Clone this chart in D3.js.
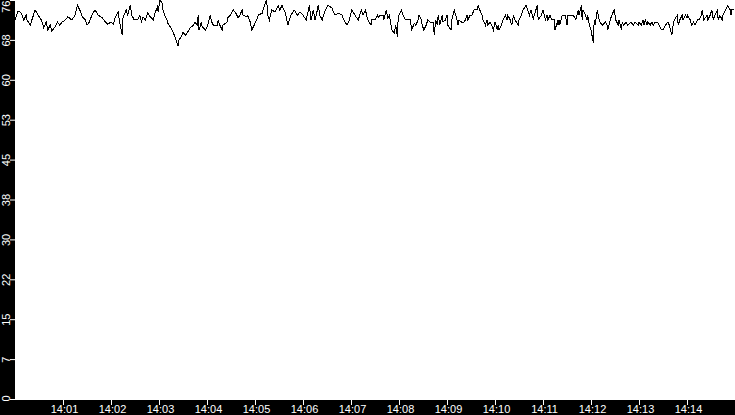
<!DOCTYPE html>
<html>
<head>
<meta charset="utf-8">
<script src="https://cdn.jsdelivr.net/npm/d3@7"></script>
<style>
  html, body { margin: 0; padding: 0; background: #000; }
  svg { display: block; }
  .axis text { fill: #fff; font-family: 'Liberation Sans', Arial, sans-serif; font-size: 11px; }
  .axis line { stroke: #fff; }
</style>
</head>
<body>
<div class="chart"></div>
<script>
// seconds after 14:00:00 for every sample
const secs = [
  0, 4, 8, 11, 14, 15, 19, 23, 25, 29, 33, 36, 39, 41, 44, 46, 50, 53, 56, 59, 63, 66, 71, 75, 78, 81, 84, 88, 90, 93, 96, 100, 104, 109,
  113, 116, 120, 123, 125, 129, 131, 134, 135, 139, 141, 144, 146, 149, 153, 156, 158, 160, 163, 166, 169, 173, 175, 178, 179, 181, 184, 185, 188, 190, 191, 194, 196, 198, 200, 204, 205, 208, 210, 213, 215, 219, 223,
  225, 228, 229, 230, 233, 234, 238, 241, 244, 246, 248, 253, 254, 256, 259, 260, 265, 266, 269, 273, 276, 279, 281, 284, 285, 290, 291, 294, 296, 299, 303, 304, 309, 310, 314, 315, 316, 318, 321, 325, 329, 331, 334, 336,
  338, 341, 343, 345, 349, 353, 356, 360, 364, 368, 370, 373, 375, 378, 379, 381, 384, 388, 391, 396, 400, 404, 409, 411, 415, 418, 421, 425, 429, 433, 435, 438, 441, 445, 446, 449,
  450, 453, 454, 456, 460, 461, 464, 466, 468, 469, 471, 474, 476, 478, 479, 480, 483, 485, 488, 494, 495, 496, 499, 501, 504, 505, 508, 509, 511, 514, 516, 519, 523, 524, 526, 528, 529, 531, 534, 535, 538, 540, 541, 545, 546, 549, 551, 554, 555, 558, 561,
  563, 565, 566, 569, 571, 574, 578, 579, 581, 584, 585, 588, 590, 591, 594, 596, 598, 600, 603, 604, 605, 608, 610, 613, 615, 616, 619, 621, 623, 625, 629, 630, 633, 635, 639, 641, 643, 645, 648, 649, 653, 654, 658, 660, 663, 665, 666, 669, 671, 674,
  675, 678, 679, 680, 681, 684, 688, 690, 691, 698, 701, 704, 705, 708, 709, 710, 713, 715, 716, 718, 720, 723, 724, 725, 728, 729, 731, 734, 738, 740, 741, 744, 746, 749, 751, 754, 755, 758, 759, 761, 764, 766, 770, 773, 775, 779, 780, 783, 785, 786,
  788, 790, 791, 794, 796, 798, 800, 804, 805, 808, 810, 813, 816, 818, 821, 823, 824, 828, 829, 831, 834, 835, 838, 840, 841, 844, 846, 848, 850, 853, 855, 858, 859, 861, 865, 866, 869, 871, 873, 875, 878, 879, 881, 884, 885, 888, 891, 894, 895, 896, 899
]
const values = [
  72.2, 73.9, 73.5, 72.2, 73.1, 72.2, 71.2, 73.1, 74.1, 73.1, 72.2, 70.7, 71.8, 70.3, 71.2, 70.1, 70.9, 71.8, 71.2, 71.8, 72.2, 72.8, 72.2, 73.1, 75.0, 74.1, 72.8, 72.2, 71.2, 71.8, 73.1, 74.1, 73.1, 72.6,
  71.8, 71.4, 71.8, 71.4, 72.6, 73.7, 71.6, 69.3, 72.6, 74.1, 73.1, 75.0, 73.1, 72.2, 72.2, 73.1, 71.8, 72.8, 72.2, 73.5, 72.8, 72.2, 73.5, 74.7, 73.7, 76.0, 75.4, 74.1, 72.8, 72.2, 71.6, 70.9, 70.3, 69.7, 69.0, 67.2, 68.4, 69.0, 69.9, 69.3, 69.7, 70.7, 71.2,
  71.8, 71.2, 73.1, 70.3, 71.8, 70.9, 70.3, 71.2, 73.1, 71.8, 71.2, 71.2, 72.2, 71.2, 70.3, 71.2, 71.8, 72.6, 73.1, 74.1, 73.5, 72.6, 73.1, 74.1, 73.1, 72.8, 73.1, 71.8, 70.3, 71.2, 72.6, 73.1, 73.5, 74.1, 76.0, 75.0, 73.1, 72.2, 74.1, 73.7, 75.0, 74.1, 75.0, 74.1,
  73.5, 71.2, 72.2, 73.1, 74.1, 73.1, 73.7, 73.1, 72.2, 75.0, 72.2, 74.1, 72.2, 74.1, 75.0, 73.1, 72.2, 74.1, 75.0, 74.5, 73.1, 73.5, 73.1, 72.2, 71.2, 72.2, 74.1, 73.1, 72.2, 74.1, 73.1, 74.1, 72.2, 71.2, 72.2, 72.2,
  72.2, 73.1, 72.6, 73.1, 73.1, 72.2, 74.1, 72.6, 73.1, 72.2, 70.3, 69.7, 71.2, 69.0, 72.6, 73.1, 74.1, 73.1, 72.2, 72.2, 71.2, 70.3, 71.6, 71.2, 72.2, 73.1, 72.2, 71.2, 70.3, 71.2, 72.2, 71.8, 71.8, 69.3, 72.2, 71.2, 73.1, 71.2, 73.1, 71.8, 72.2, 73.1, 71.2, 70.3, 72.2, 74.1, 73.1, 71.2, 72.2, 71.8, 71.8,
  72.2, 73.1, 72.2, 73.1, 73.1, 74.1, 74.1, 75.0, 74.1, 73.1, 72.2, 71.2, 72.2, 71.2, 71.8, 71.2, 70.3, 71.8, 70.3, 71.2, 70.3, 71.2, 72.2, 73.1, 72.2, 73.1, 72.2, 71.2, 73.1, 72.2, 71.2, 72.2, 73.1, 74.1, 75.0, 74.1, 73.1, 74.1, 72.2, 73.1, 75.0, 72.2, 73.1, 74.1, 72.2, 73.1, 72.2, 73.1, 72.2, 72.2,
  70.3, 71.8, 71.2, 72.2, 71.2, 73.1, 73.1, 71.2, 73.1, 73.1, 72.2, 74.1, 73.1, 75.0, 72.2, 74.1, 73.1, 72.2, 73.1, 71.2, 70.3, 67.8, 72.2, 71.2, 74.1, 73.1, 71.8, 71.2, 71.8, 71.2, 70.3, 72.2, 73.1, 74.1, 72.2, 71.2, 72.2, 70.3, 71.8, 71.2, 71.8, 71.2, 71.8, 71.2, 71.8, 71.2, 71.8, 71.2, 72.2, 71.2,
  72.2, 71.2, 71.8, 71.2, 71.8, 71.2, 71.8, 71.6, 71.2, 70.3, 70.3, 71.2, 71.8, 71.2, 69.3, 71.6, 72.2, 73.1, 71.2, 72.2, 73.1, 72.2, 73.1, 72.6, 73.1, 72.2, 71.2, 71.8, 71.2, 72.2, 72.2, 73.1, 74.1, 72.2, 73.1, 72.2, 73.1, 74.1, 72.2, 73.1, 74.1, 72.2, 73.1, 72.2, 73.1, 74.1, 75.0, 74.1, 73.1, 74.1, 74.1
]
const yTicks = [0, 7.6, 15.2, 22.8, 30.4, 38, 45.6, 53.2, 60.8, 68.4, 76]
const yTickLabels = ['0', '7', '15', '22', '30', '38', '45', '53', '60', '68', '76']
const xTickMinutes = [1, 2, 3, 4, 5, 6, 7, 8, 9, 10, 11, 12, 13, 14]

const width = 735
const height = 415
const margin = { left: 15, right: 0, top: 0, bottom: 15 }
const plotBottom = height - margin.bottom

const startTime = new Date(2024, 0, 1, 14, 0, 0)
const endTime = new Date(2024, 0, 1, 14, 15, 0)
const data = secs.map((s, i) => ({
  t: new Date(startTime.getTime() + s * 1000),
  v: values[i],
}))

const svg = d3
  .select('.chart')
  .append('svg')
  .attr('width', width)
  .attr('height', height)

svg.append('rect')
  .attr('width', width)
  .attr('height', height)
  .style('fill', '#000')

svg.append('rect')
  .attr('x', margin.left)
  .attr('y', margin.top)
  .attr('width', width - margin.left - margin.right)
  .attr('height', plotBottom - margin.top)
  .style('fill', '#fff')

let x = d3.scaleTime().domain([startTime, endTime]).range([margin.left, width - margin.right])
let y = d3.scaleLinear().domain([0, 76]).range([plotBottom - 1, margin.top])

// x axis
let xAxis = svg
  .append('g')
  .attr('class', 'axis')
  .attr('transform', `translate(0,${plotBottom})`)
  .call(
    d3.axisBottom(x)
      .tickValues(xTickMinutes.map((m) => new Date(2024, 0, 1, 14, m, 0)))
      .tickSize(5)
      .tickFormat(d3.timeFormat('%H:%M'))
  )
xAxis.select('.domain').remove()
xAxis.selectAll('text').attr('y', 5).attr('x', 1)

// y axis, labels turned on their side
let yAxis = svg
  .append('g')
  .attr('class', 'axis')
  .attr('transform', `translate(${margin.left},0)`)
  .call(
    d3.axisLeft(y)
      .tickValues(yTicks)
      .tickSize(5)
      .tickFormat((d, i) => yTickLabels[i])
  )
yAxis.select('.domain').remove()
yAxis.selectAll('text')
  .attr('x', null)
  .attr('dy', null)
  .attr('text-anchor', 'middle')
  .attr('transform', function (d) {
    // keep labels inside the strip at both ends
    let half = this.getComputedTextLength() / 2
    let cy = Math.max(half, Math.min(plotBottom - half + 1, y(d)))
    return `translate(-5,${cy - y(d)}) rotate(-90)`
  })

let line = d3
  .line()
  .x((d) => x(d.t))
  .y((d) => y(d.v))

svg.append('path')
  .datum(data)
  .attr('d', line)
  .style('fill', 'none')
  .style('stroke', '#000')
  .style('stroke-width', 1)
  .style('shape-rendering', 'crispEdges')
</script>
</body>
</html>
